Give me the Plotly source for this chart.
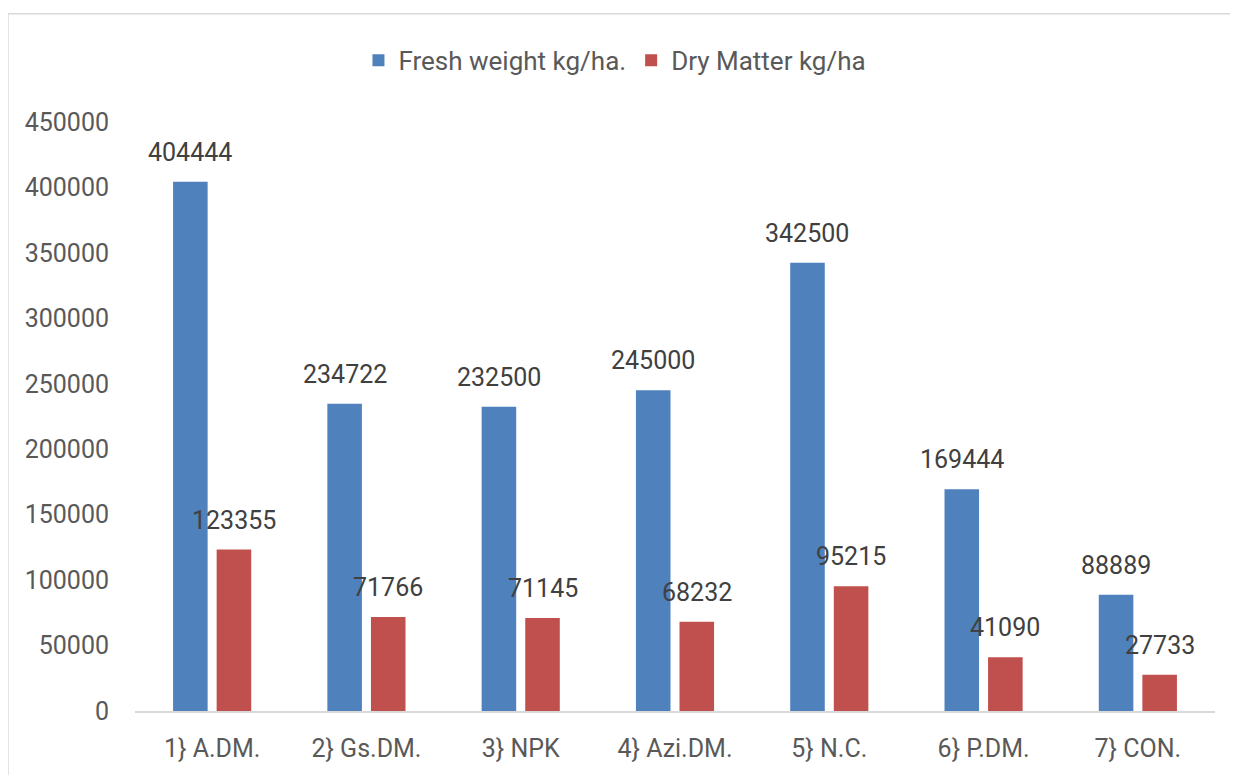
import plotly.graph_objects as go

categories = ["1} A.DM.", "2} Gs.DM.", "3} NPK", "4} Azi.DM.", "5} N.C.", "6} P.DM.", "7} CON."]
fresh_weight = [404444, 234722, 232500, 245000, 342500, 169444, 88889]
dry_matter = [123355, 71766, 71145, 68232, 95215, 41090, 27733]
y_ticks = [0, 50000, 100000, 150000, 200000, 250000, 300000, 350000, 400000, 450000]

FONT = "Roboto"
W, H = 1222, 767
ML, MR, MT, MB = 127, 15, 114, 60
BARGAP, GROUPGAP = 0.435, 0.207

fig = go.Figure()
fig.add_trace(go.Bar(
    x=categories, y=fresh_weight, name="Fresh weight kg/ha.",
    marker=dict(color="#4F81BD", line=dict(width=0)),
))
fig.add_trace(go.Bar(
    x=categories, y=dry_matter, name="Dry Matter kg/ha",
    marker=dict(color="#C0504D", line=dict(width=0)),
))

# data labels placed above each bar (offset in pixels from the category centre)
plot_w = W - ML - MR
cat_w = plot_w / len(categories)
slot = (1 - BARGAP) * cat_w / 2
annotations = []
for series, shift in ((fresh_weight, -slot / 2), (dry_matter, slot / 2)):
    for c, v in zip(categories, series):
        annotations.append(dict(
            x=c, y=v, xref="x", yref="y", text=str(v), showarrow=False,
            xanchor="center", yanchor="bottom", xshift=shift, yshift=13,
            font=dict(family=FONT, size=25, color="#404040"),
        ))

fig.update_layout(
    width=W, height=H,
    margin=dict(l=ML, r=MR, t=MT, b=MB),
    paper_bgcolor="white", plot_bgcolor="white",
    barmode="group", bargap=BARGAP, bargroupgap=GROUPGAP,
    font=dict(family=FONT, size=25, color="#595959"),
    showlegend=True,
    legend=dict(orientation="h", x=0.4444, xanchor="center", y=1.1046, yanchor="middle",
                font=dict(family=FONT, size=26, color="#595959"), itemwidth=30,
                traceorder="normal"),
    xaxis=dict(showline=True, linecolor="#D9D9D9", linewidth=2, showgrid=False,
               ticks="", ticklabelstandoff=14, tickfont=dict(size=25)),
    yaxis=dict(range=[0, 450000], tickvals=y_ticks, ticktext=[str(v) for v in y_ticks],
               showgrid=False, showline=False, zeroline=False, ticks="",
               ticklabelstandoff=25, tickfont=dict(size=25)),
    annotations=annotations,
    shapes=[dict(type="rect", xref="paper", yref="paper",
                 x0=-0.1176, x1=1.05, y0=-0.3, y1=1.1838,
                 line=dict(color="#D9D9D9", width=1.5), layer="below")],
)

fig.write_html("out.html")
